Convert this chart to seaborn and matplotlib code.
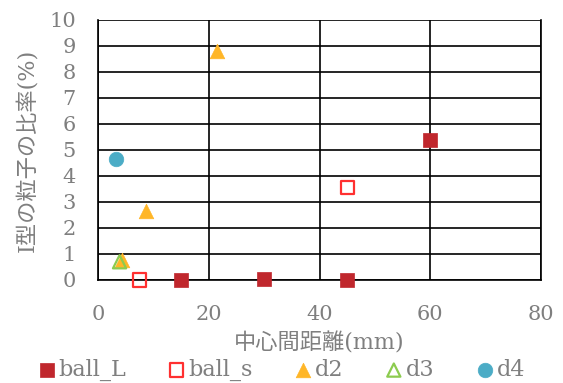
import matplotlib
matplotlib.use("Agg")
import matplotlib.pyplot as plt
import seaborn as sns
import pandas as pd

sns.set_theme(style="white")
plt.rcParams["font.family"] = ["DejaVu Serif", "Noto Sans CJK JP"]

# Measured ratios of type-I particles vs. centre distance
ball_L_x = [15, 30, 45, 60]
ball_L_y = [0.0, 0.05, 0.0, 5.4]
ball_s_x = [7.5, 45]
ball_s_y = [0.0, 3.55]
d2_x = [21.5, 8.7, 4.3]
d2_y = [8.8, 2.65, 0.75]
d3_x = [3.9]
d3_y = [0.7]
d4_x = [3.2]
d4_y = [4.65]

series = [
    ("ball_L", ball_L_x, ball_L_y, "s", "#C0272D", True),
    ("ball_s", ball_s_x, ball_s_y, "s", "#FF3030", False),
    ("d2", d2_x, d2_y, "^", "#FFB627", True),
    ("d3", d3_x, d3_y, "^", "#8CCB4F", False),
    ("d4", d4_x, d4_y, "o", "#4BACC6", True),
]

fig = plt.figure(figsize=(5.63, 3.83), dpi=100)
ax = fig.add_axes([0.174, 0.269, 0.787, 0.679])

for name, xs, ys, mk, col, filled in series:
    df = pd.DataFrame({"x": xs, "y": ys})
    if filled:
        sns.scatterplot(data=df, x="x", y="y", ax=ax, marker=mk, s=110,
                        color=col, edgecolor=col, linewidth=0.5,
                        label=name, zorder=5, clip_on=False)
    else:
        sns.scatterplot(data=df, x="x", y="y", ax=ax, marker=mk, s=90,
                        color=col, facecolor="none", edgecolor=col,
                        linewidth=1.6, label=name, zorder=5, clip_on=False)

ax.set_xlim(0, 80)
ax.set_ylim(0, 10)
ax.set_xticks([0, 20, 40, 60, 80])
ax.set_yticks(range(0, 11))
ax.grid(True, color="black", linewidth=1.2)
ax.set_axisbelow(True)
for side in ["left", "bottom", "right"]:
    ax.spines[side].set_color("black")
    ax.spines[side].set_linewidth(1.2)
ax.spines["top"].set_visible(False)

grey = "#7F7F7F"
ax.tick_params(axis="both", length=0, labelsize=15, labelcolor=grey)
ax.tick_params(axis="x", pad=18)
ax.tick_params(axis="y", pad=16)
ax.set_xlabel("中心間距離(mm)", fontsize=16, color=grey, labelpad=6)
ax.set_ylabel("I型の粒子の比率(%)", fontsize=16, color=grey, labelpad=8)

handles, labels = ax.get_legend_handles_labels()
ax.get_legend().remove()
fig.legend(handles, labels, loc="center", bbox_to_anchor=(0.502, 0.034),
           ncol=5, frameon=False, fontsize=16, labelcolor=grey,
           handlelength=0.6, handletextpad=0.25, columnspacing=1.95,
           borderaxespad=0, borderpad=0)

fig.savefig("out.png", dpi=100)
